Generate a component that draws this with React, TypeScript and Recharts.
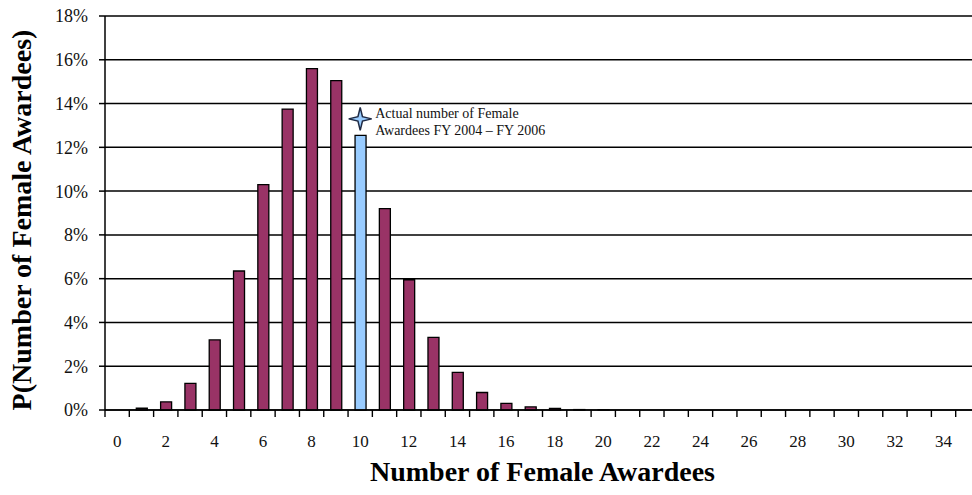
import React from 'react';
import { BarChart, Bar, Cell, XAxis, YAxis, CartesianGrid, ReferenceDot } from 'recharts';

// number of female awardees (categories) and probability of each, in percent
const awardees = [
  0, 1, 2, 3, 4, 5, 6, 7, 8, 9, 10, 11, 12, 13, 14, 15, 16, 17,
  18, 19, 20, 21, 22, 23, 24, 25, 26, 27, 28, 29, 30, 31, 32, 33, 34, 35,
];
const probability = [
  0, 0.08, 0.37, 1.22, 3.2, 6.35, 10.3, 13.75, 15.6, 15.05, 12.55, 9.2, 5.95, 3.32, 1.72, 0.8, 0.3, 0.14,
  0.07, 0.02, 0.01, 0, 0, 0, 0, 0, 0, 0, 0, 0, 0, 0, 0, 0, 0, 0,
];
const actualAwardees = 10;
const xTickLabels = ['0', '2', '4', '6', '8', '10', '12', '14', '16', '18', '20', '22', '24', '26', '28', '30', '32', '34'];
const yTicks = [0, 2, 4, 6, 8, 10, 12, 14, 16, 18];
const annotationY = 13.3;
const annotationLines = ['Actual number of Female', 'Awardees FY 2004 \u2013 FY 2006'];

const data = awardees.map((n, i) => ({ n, p: probability[i] }));

const FONT = '"Liberation Serif", "Times New Roman", serif';
const CHART_W = 985;
const CHART_H = 495;
const MARGIN = { top: 16, right: 5, bottom: 0, left: 40 };
const Y_AXIS_W = 65;
const X_AXIS_H = 85;
const BAND = (CHART_W - MARGIN.left - MARGIN.right - Y_AXIS_W) / awardees.length;
const MAROON = '#993366';
const LIGHT_BLUE = '#99CCFF';

const XTick = (props: any) => {
  const { x, y, payload } = props;
  const showLabel = xTickLabels.includes(String(payload.value));
  const isLast = payload.value === awardees[awardees.length - 1];
  return (
    <g>
      <line x1={x - BAND / 2} x2={x - BAND / 2} y1={y} y2={y + 7} stroke="#000" strokeWidth={1.4} />
      {isLast && <line x1={x + BAND / 2} x2={x + BAND / 2} y1={y} y2={y + 7} stroke="#000" strokeWidth={1.4} />}
      {showLabel && (
        <text x={x} y={y + 37} textAnchor="middle" fontFamily={FONT} fontSize={17} fill="#111">
          {payload.value}
        </text>
      )}
    </g>
  );
};

const StarNote = (props: any) => {
  const { cx, cy } = props;
  const pts: string[] = [];
  for (let k = 0; k < 8; k++) {
    const r = k % 2 === 0 ? 11.5 : 3.2;
    const a = (k * Math.PI) / 4 - Math.PI / 2;
    pts.push(`${cx + r * Math.cos(a)},${cy + r * Math.sin(a)}`);
  }
  return (
    <g>
      <polygon points={pts.join(' ')} fill={LIGHT_BLUE} stroke="#1F2A44" strokeWidth={1.5} />
      <text fontFamily={FONT} fontSize={14} fill="#111">
        {annotationLines.map((line, i) => (
          <tspan key={i} x={cx + 15} y={cy - 1 + i * 17}>
            {line}
          </tspan>
        ))}
      </text>
    </g>
  );
};

export default function App() {
  return (
    <div style={{ position: 'absolute', left: 0, top: 0, width: 972, height: 495, overflow: 'hidden', background: '#fff' }}>
      <BarChart width={CHART_W} height={CHART_H} data={data} margin={MARGIN} barCategoryGap={0}>
        <CartesianGrid vertical={false} stroke="#000" strokeWidth={1.5} />
        <XAxis
          dataKey="n"
          type="category"
          interval={0}
          height={X_AXIS_H}
          axisLine={{ stroke: '#000', strokeWidth: 1.5 }}
          tickLine={false}
          tickSize={0}
          tickMargin={0}
          tick={<XTick />}
          label={{
            content: (p: any) => {
              const vb = p.viewBox;
              return (
                <text x={vb.x + vb.width / 2} y={vb.y + 71} textAnchor="middle" fontFamily={FONT} fontSize={28} fontWeight="bold" fill="#000">
                  Number of Female Awardees
                </text>
              );
            },
          }}
        />
        <YAxis
          width={Y_AXIS_W}
          domain={[0, 18]}
          ticks={yTicks}
          tickFormatter={(v: number) => `${v}%`}
          axisLine={{ stroke: '#000', strokeWidth: 1.5 }}
          tickLine={{ stroke: '#000', strokeWidth: 1.5 }}
          tickSize={6}
          tickMargin={11}
          tick={{ fill: '#111', fontSize: 18, fontFamily: FONT }}
          label={{
            content: (p: any) => {
              const vb = p.viewBox;
              return (
                <text
                  transform={`translate(${vb.x - 9}, ${vb.y + vb.height / 2 + 7}) rotate(-90)`}
                  textAnchor="middle"
                  fontFamily={FONT}
                  fontSize={28}
                  fontWeight="bold"
                  fill="#000"
                >
                  P(Number of Female Awardees)
                </text>
              );
            },
          }}
        />
        <Bar dataKey="p" barSize={11} stroke="#000" strokeWidth={1.3} isAnimationActive={false}>
          {data.map((d) => (
            <Cell key={d.n} fill={d.n === actualAwardees ? LIGHT_BLUE : MAROON} />
          ))}
        </Bar>
        <ReferenceDot x={actualAwardees} y={annotationY} r={11} shape={<StarNote />} />
      </BarChart>
    </div>
  );
}
